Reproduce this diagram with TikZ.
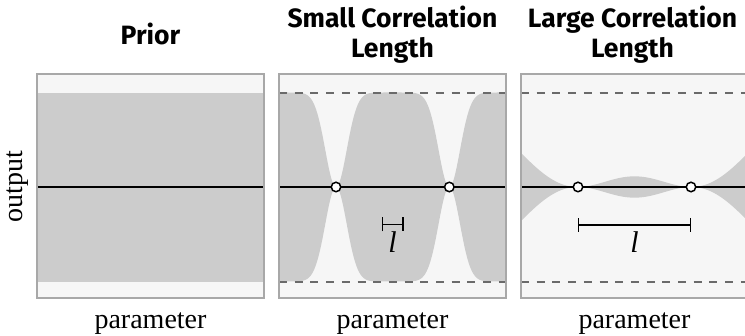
\documentclass[tikz,border=0pt]{standalone}
\usepackage{fontspec}
\setmainfont{Liberation Serif}
\newfontfamily\titlefont{Fira Sans}
\usetikzlibrary{arrows.meta}
\definecolor{panelbg}{HTML}{F6F6F6}
\definecolor{bandgray}{HTML}{CCCCCC}
\definecolor{framegray}{HTML}{A8A8A8}
\definecolor{dashgray}{HTML}{6A6A6A}
\tikzset{
  panelframe/.style={draw=framegray, line width=1.2pt, fill=panelbg},
  limitline/.style={draw=dashgray, line width=1.5pt, dash pattern=on 8pt off 7.7pt},
  meanline/.style={draw=black, line width=1.5pt},
  obspt/.style={circle, draw=black, fill=white, line width=1.5pt, inner sep=0pt, minimum size=9.5pt},
  ttl/.style={font=\titlefont\bfseries\fontsize{26.5}{30}\selectfont, anchor=base, align=center},
  axlbl/.style={font=\fontsize{28}{30}\selectfont, anchor=base},
  lenbar/.style={line width=1.2pt, {Bar[width=14pt,line width=1.2pt]}-{Bar[width=14pt,line width=1.2pt]}},
  lenlbl/.style={font=\itshape\fontsize{30}{30}\selectfont, anchor=base},
}
\begin{document}
\begin{tikzpicture}[x=1pt,y=-1pt,
  declare function={
    kk(\d,\l)=exp(-min((\d/\l)^2,12));
    sv(\x,\p,\q,\l)=max(0,1-(kk(\x-\p,\l)^2+kk(\x-\q,\l)^2-2*kk(\q-\p,\l)*kk(\x-\p,\l)*kk(\x-\q,\l))/(1-kk(\q-\p,\l)^2));
  }]
\useasboundingbox (0,0) rectangle (745,336);
% ---------- Panel 1: Prior ----------
\path[panelframe] (37,74) rectangle (264,298);
\fill[bandgray] (37,93) rectangle (264,282);
\coordinate (m1l) at (37,187);
\coordinate (m1r) at (264,187);
\draw[meanline] (m1l) -- (m1r);
\draw[draw=framegray, line width=1.2pt] (37,74) rectangle (264,298);
\node[ttl] (t1) at (150.5,45) {Prior};
\node[axlbl] (x1) at (150.5,329) {parameter};
\node[axlbl, rotate=90] (ylab) at (22,187) {output};
% ---------- Panel 2: Small correlation length ----------
\path[panelframe] (279,74) rectangle (506,298);
\fill[bandgray] plot[domain=279:506, samples=301] (\x,{187-94.5*sv(\x,336,449.3,21.5)})
  -- plot[domain=506:279, samples=301] (\x,{187+94.5*sv(\x,336,449.3,21.5)}) -- cycle;
\coordinate (d2a) at (279,93);  \coordinate (d2b) at (506,93);
\coordinate (d2c) at (279,282); \coordinate (d2d) at (506,282);
\draw[limitline] (d2a) -- (d2b);
\draw[limitline] (d2c) -- (d2d);
\coordinate (m2l) at (279,187);
\coordinate (m2r) at (506,187);
\draw[meanline] (m2l) -- (m2r);
\node[obspt] (o2a) at (336,187) {};
\node[obspt] (o2b) at (449.3,187) {};
\coordinate (b2a) at (382,224.5);
\coordinate (b2b) at (403.5,224.5);
\draw[lenbar] (b2a) -- (b2b);
\node[lenlbl] (l2) at (392.5,253) {l};
\draw[draw=framegray, line width=1.2pt] (279,74) rectangle (506,298);
\node[ttl] (t2a) at (392.5,27.5) {Small Correlation};
\node[ttl] (t2b) at (392.5,57.5) {Length};
\node[axlbl] (x2) at (392.5,329) {parameter};
% ---------- Panel 3: Large correlation length ----------
\path[panelframe] (521,74) rectangle (748,298);
\fill[bandgray] plot[domain=521:748, samples=301] (\x,{187-94.5*sv(\x,578,691,113)})
  -- plot[domain=748:521, samples=301] (\x,{187+94.5*sv(\x,578,691,113)}) -- cycle;
\coordinate (d3a) at (521,93);  \coordinate (d3b) at (748,93);
\coordinate (d3c) at (521,282); \coordinate (d3d) at (748,282);
\draw[limitline] (d3a) -- (d3b);
\draw[limitline] (d3c) -- (d3d);
\coordinate (m3l) at (521,187);
\coordinate (m3r) at (748,187);
\draw[meanline] (m3l) -- (m3r);
\node[obspt] (o3a) at (578,187) {};
\node[obspt] (o3b) at (691,187) {};
\coordinate (b3a) at (578,225);
\coordinate (b3b) at (691,225);
\draw[lenbar] (b3a) -- (b3b);
\node[lenlbl] (l3) at (634.5,253) {l};
\draw[draw=framegray, line width=1.2pt] (521,74) rectangle (748,298);
\node[ttl] (t3a) at (632.5,27.5) {Large Correlation};
\node[ttl] (t3b) at (632.5,57.5) {Length};
\node[axlbl] (x3) at (634.5,329) {parameter};
\end{tikzpicture}
\end{document}
